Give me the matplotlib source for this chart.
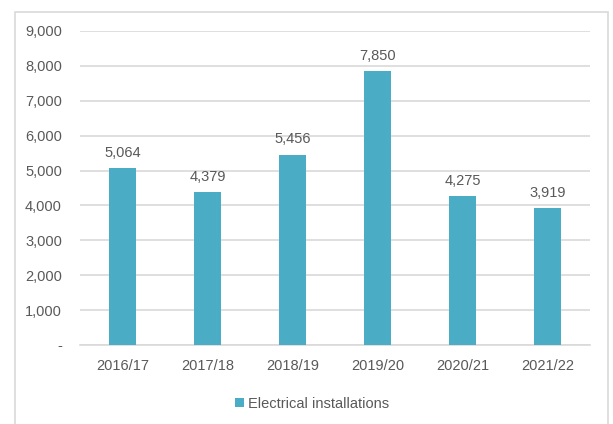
import matplotlib.pyplot as plt
from matplotlib.patches import Rectangle

years = ["2016/17", "2017/18", "2018/19", "2019/20", "2020/21", "2021/22"]
installs = [5064, 4379, 5456, 7850, 4275, 3919]
yticks = [0, 1000, 2000, 3000, 4000, 5000, 6000, 7000, 8000, 9000]

plt.rcParams['font.family'] = ['Liberation Sans', 'DejaVu Sans']
plt.rcParams['font.size'] = 10.5

txt = '#595959'
grid = '#D9D9D9'
bar_col = '#4BACC6'

fig = plt.figure(figsize=(6.13, 4.24), dpi=100)
# chart border
fig.patches.append(Rectangle((15 / 613, -0.05), (608 - 15) / 613, 1.05 - 12 / 424,
                             transform=fig.transFigure, fill=False,
                             edgecolor=grid, linewidth=1.2))
ax = fig.add_axes([80 / 613, 79 / 424, 510 / 613, 314 / 424])

x = range(len(years))
ax.bar(x, installs, width=0.31, color=bar_col, label="Electrical installations", zorder=3)
for i, v in zip(x, installs):
    ax.annotate(f"{v:,}", (i, v), xytext=(0, 6), textcoords='offset points',
                ha='center', va='bottom', color=txt)

ax.set_xlim(-0.5, len(years) - 0.5)
ax.set_ylim(0, 9000)
ax.set_yticks(yticks)
ax.set_yticklabels(["-" if t == 0 else f"{t:,}" for t in yticks])
ax.set_xticks(list(x))
ax.set_xticklabels(years)
ax.tick_params(length=0, colors=txt, labelsize=10.5)
ax.tick_params(axis='y', pad=13)
ax.tick_params(axis='x', pad=10)
ax.grid(axis='y', color=grid, linewidth=1.2, zorder=0)
for s in ['top', 'right', 'left']:
    ax.spines[s].set_visible(False)
ax.spines['bottom'].set_color(grid)
ax.spines['bottom'].set_linewidth(1.2)

fig.legend(loc='center', bbox_to_anchor=(312 / 613, 20 / 424), frameon=False,
           handlelength=0.6, handleheight=0.6, handletextpad=0.3,
           labelcolor=txt)

fig.savefig("out.png", dpi=100)
